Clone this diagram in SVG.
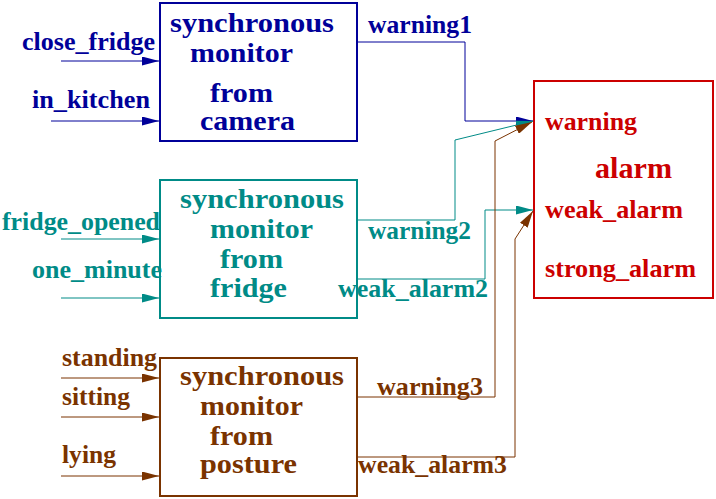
<svg xmlns="http://www.w3.org/2000/svg" width="716" height="499" viewBox="0 0 716 499">
<style>
text{font-family:"Liberation Serif","Times New Roman",serif;font-weight:bold;font-size:25px}
.n{font-size:28px}
.big{font-size:29px}
.box{fill:#fff;stroke-width:2}
.c{fill:none;stroke-width:1}
.b{fill:#000099}.bs{stroke:#000099}
.t{fill:#008b87}.ts{stroke:#008b87}
.r{fill:#7a3300}.rs{stroke:#7a3300}
.a{fill:#cc0000}.as{stroke:#cc0000}
</style>
<defs>
<marker id="mb" markerUnits="userSpaceOnUse" markerWidth="17" markerHeight="9" refX="17" refY="4.5" orient="auto"><path d="M0,0L17,4.5L0,9z" fill="#000099"/></marker>
<marker id="mt" markerUnits="userSpaceOnUse" markerWidth="17" markerHeight="9" refX="17" refY="4.5" orient="auto"><path d="M0,0L17,4.5L0,9z" fill="#008b87"/></marker>
<marker id="mr" markerUnits="userSpaceOnUse" markerWidth="17" markerHeight="9" refX="17" refY="4.5" orient="auto"><path d="M0,0L17,4.5L0,9z" fill="#7a3300"/></marker>
</defs>
<rect width="716" height="499" fill="#fff"/>
<g id="camera">
<rect class="box bs" x="160" y="3" width="197" height="138"/>
<text class="b n" x="170" y="32" textLength="164" lengthAdjust="spacingAndGlyphs">synchronous</text>
<text class="b n" x="190" y="62" textLength="103" lengthAdjust="spacingAndGlyphs">monitor</text>
<text class="b n" x="210" y="102" textLength="63" lengthAdjust="spacingAndGlyphs">from</text>
<text class="b n" x="200" y="130" textLength="95" lengthAdjust="spacingAndGlyphs">camera</text>
</g>
<g id="fridge">
<rect class="box ts" x="160" y="180" width="197" height="138"/>
<text class="t n" x="180" y="208" textLength="164" lengthAdjust="spacingAndGlyphs">synchronous</text>
<text class="t n" x="210" y="238" textLength="103" lengthAdjust="spacingAndGlyphs">monitor</text>
<text class="t n" x="220" y="268" textLength="63" lengthAdjust="spacingAndGlyphs">from</text>
<text class="t n" x="210" y="297" textLength="77" lengthAdjust="spacingAndGlyphs">fridge</text>
</g>
<g id="posture">
<rect class="box rs" x="160" y="358" width="197" height="138"/>
<text class="r n" x="180" y="385" textLength="164" lengthAdjust="spacingAndGlyphs">synchronous</text>
<text class="r n" x="200" y="415" textLength="103" lengthAdjust="spacingAndGlyphs">monitor</text>
<text class="r n" x="210" y="445" textLength="63" lengthAdjust="spacingAndGlyphs">from</text>
<text class="r n" x="200" y="473" textLength="97" lengthAdjust="spacingAndGlyphs">posture</text>
</g>
<g id="alarm">
<rect class="box as" x="534" y="81" width="179" height="217"/>
<text class="a" x="545" y="130" textLength="92" lengthAdjust="spacingAndGlyphs">warning</text>
<text class="a big" x="595" y="178" textLength="77" lengthAdjust="spacingAndGlyphs">alarm</text>
<text class="a" x="545" y="218" textLength="138" lengthAdjust="spacingAndGlyphs">weak_alarm</text>
<text class="a" x="545" y="277" textLength="151" lengthAdjust="spacingAndGlyphs">strong_alarm</text>
</g>
<g id="connectors">
<path class="c bs" d="M61,61H159" marker-end="url(#mb)"/>
<path class="c bs" d="M51,121H159" marker-end="url(#mb)"/>
<path class="c ts" d="M61,239H159" marker-end="url(#mt)"/>
<path class="c ts" d="M61,298H159" marker-end="url(#mt)"/>
<path class="c rs" d="M61,378H159" marker-end="url(#mr)"/>
<path class="c rs" d="M61,417H159" marker-end="url(#mr)"/>
<path class="c rs" d="M61,476H159" marker-end="url(#mr)"/>
<path class="c bs" d="M357,42H465V121H533" marker-end="url(#mb)"/>
<path class="c ts" d="M357,220H455V140L533,121" marker-end="url(#mt)"/>
<path class="c ts" d="M357,279H485V210H533" marker-end="url(#mt)"/>
<path class="c rs" d="M357,397H495V141L532,122" marker-end="url(#mr)"/>
<path class="c rs" d="M357,457H515V239L533,211" marker-end="url(#mr)"/>
</g>
<g id="labels">
<text class="b" x="22" y="50" textLength="133" lengthAdjust="spacingAndGlyphs">close_fridge</text>
<text class="b" x="32" y="108" textLength="118" lengthAdjust="spacingAndGlyphs">in_kitchen</text>
<text class="b" x="368" y="33" textLength="104" lengthAdjust="spacingAndGlyphs">warning1</text>
<text class="t" x="2" y="230" textLength="158" lengthAdjust="spacingAndGlyphs">fridge_opened</text>
<text class="t" x="32" y="278" textLength="130" lengthAdjust="spacingAndGlyphs">one_minute</text>
<text class="t" x="368" y="239" textLength="103" lengthAdjust="spacingAndGlyphs">warning2</text>
<text class="t" x="338" y="297" textLength="150" lengthAdjust="spacingAndGlyphs">weak_alarm2</text>
<text class="r" x="62" y="366" textLength="95" lengthAdjust="spacingAndGlyphs">standing</text>
<text class="r" x="62" y="405" textLength="68" lengthAdjust="spacingAndGlyphs">sitting</text>
<text class="r" x="62" y="463" textLength="54" lengthAdjust="spacingAndGlyphs">lying</text>
<text class="r" x="377" y="395" textLength="106" lengthAdjust="spacingAndGlyphs">warning3</text>
<text class="r" x="358" y="473" textLength="149" lengthAdjust="spacingAndGlyphs">weak_alarm3</text>
</g>
</svg>
